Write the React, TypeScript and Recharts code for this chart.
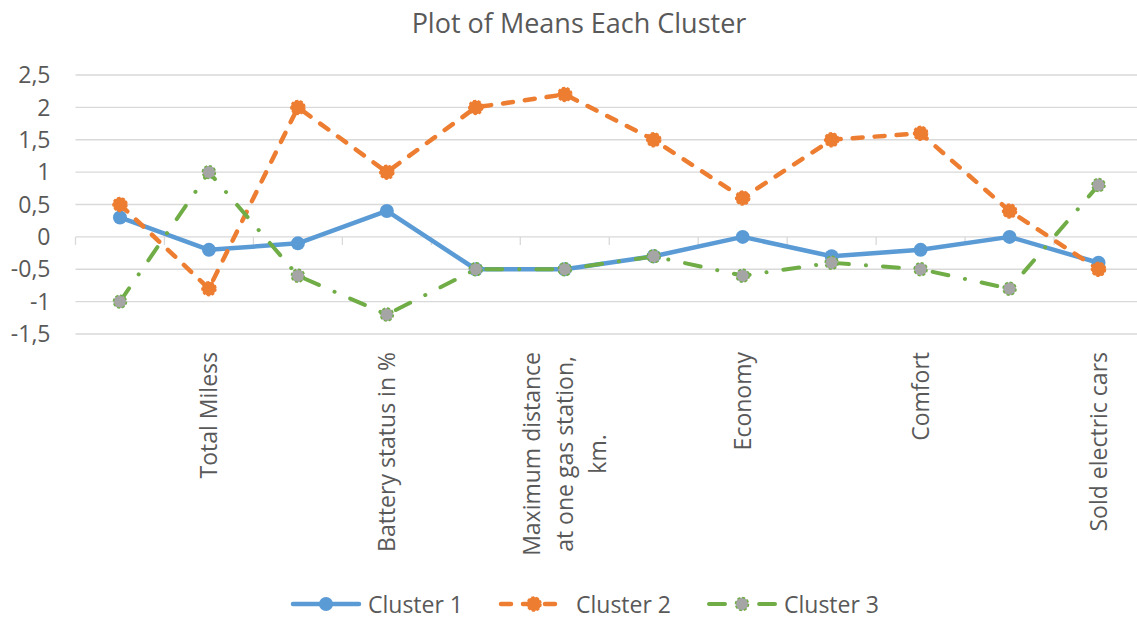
import React from 'react'
import {
  LineChart,
  Line,
  XAxis,
  YAxis,
  CartesianGrid,
  Legend,
  ReferenceLine,
} from 'recharts'

// every other category label is hidden in the source chart, so those names are unknown
const categories = [
  '',
  'Total Miless',
  '',
  'Battery status in %',
  '',
  'Maximum distance at one gas station, km.',
  '',
  'Economy',
  '',
  'Comfort',
  '',
  'Sold electric cars',
]
const cluster1 = [0.3, -0.2, -0.1, 0.4, -0.5, -0.5, -0.3, 0, -0.3, -0.2, 0, -0.4]
const cluster2 = [0.5, -0.8, 2, 1, 2, 2.2, 1.5, 0.6, 1.5, 1.6, 0.4, -0.5]
const cluster3 = [-1, 1, -0.6, -1.2, -0.5, -0.5, -0.3, -0.6, -0.4, -0.5, -0.8, 0.8]
const yTicks = [-1.5, -1, -0.5, 0, 0.5, 1, 1.5, 2, 2.5]
const seriesNames = ['Cluster 1', 'Cluster 2', 'Cluster 3']

const data = categories.map((name, i) => ({
  idx: i,
  name,
  c1: cluster1[i],
  c2: cluster2[i],
  c3: cluster3[i],
}))

const FONT = '"Open Sans", "Noto Sans", sans-serif'
const TEXT = '#595959'
const GRID = '#D9D9D9'
const BLUE = '#5B9BD5'
const ORANGE = '#ED7D31'
const GREEN = '#70AD47'
const GRAY = '#A5A5A5'

const DASH2 = '10 12'
const DASH3 = '16 17 0.1 17'

const LABEL_SIZE = 23
const LABEL_LINE = 33
const LABEL_MAX = 210

let ctx: CanvasRenderingContext2D | null = null
const textWidth = (s: string) => {
  if (!ctx) ctx = document.createElement('canvas').getContext('2d')
  if (!ctx) return s.length * LABEL_SIZE * 0.5
  ctx.font = `${LABEL_SIZE}px "Open Sans"`
  return ctx.measureText(s).width
}

const wrapLabel = (label: string) => {
  const lines: string[] = []
  let cur = ''
  label.split(' ').forEach((w) => {
    const next = cur ? `${cur} ${w}` : w
    if (cur && textWidth(next) > LABEL_MAX) {
      lines.push(cur)
      cur = w
    } else {
      cur = next
    }
  })
  if (cur) lines.push(cur)
  return lines
}

const marker = (kind: number, cx: number, cy: number, key?: any) => {
  if (kind === 0) return <circle key={key} cx={cx} cy={cy} r={7} fill={BLUE} />
  if (kind === 1)
    return (
      <circle
        key={key}
        cx={cx}
        cy={cy}
        r={7}
        fill={ORANGE}
        stroke={ORANGE}
        strokeWidth={1.5}
        strokeDasharray='3 2'
      />
    )
  return (
    <circle
      key={key}
      cx={cx}
      cy={cy}
      r={6.5}
      fill={GRAY}
      stroke={GREEN}
      strokeWidth={1.5}
      strokeDasharray='3 2'
    />
  )
}

const makeDot = (kind: number) => (props: any) => {
  const { cx, cy, index } = props
  if (cx == null || cy == null) return <g key={index} />
  return marker(kind, cx, cy, index)
}

// rotated label: block hangs from the axis, lines centred inside the block
const CategoryTick = (props: any) => {
  const { x, y, payload } = props
  const label = categories[payload.value]
  if (!label) return <g />
  const lines = wrapLabel(label)
  const blockW = Math.max(...lines.map(textWidth))
  const mid = x - blockW / 2
  const first = -((lines.length - 1) / 2) * LABEL_LINE + 8
  return (
    <text
      x={mid}
      y={y}
      transform={`rotate(-90, ${x}, ${y})`}
      textAnchor='middle'
      fontSize={LABEL_SIZE}
      fontFamily={FONT}
      fill={TEXT}
    >
      {lines.map((l, i) => (
        <tspan key={i} x={mid} dy={i === 0 ? first : LABEL_LINE}>
          {l}
        </tspan>
      ))}
    </text>
  )
}

const legendStyles = [
  { color: BLUE, dash: undefined, width: 4.5 },
  { color: ORANGE, dash: DASH2, width: 4.5 },
  { color: GREEN, dash: DASH3, width: 4 },
]

const renderLegend = () => (
  <div
    style={{
      display: 'flex',
      justifyContent: 'center',
      alignItems: 'center',
      paddingLeft: 26,
      height: 44,
      fontFamily: FONT,
      fontSize: 23,
      color: TEXT,
    }}
  >
    {seriesNames.map((name, i) => (
      <div
        key={name}
        style={{ display: 'flex', alignItems: 'center', marginLeft: i ? 35 : 0 }}
      >
        <svg width={72} height={20}>
          <line
            x1={3}
            y1={10}
            x2={69}
            y2={10}
            stroke={legendStyles[i].color}
            strokeWidth={legendStyles[i].width}
            strokeDasharray={legendStyles[i].dash}
            strokeLinecap='round'
          />
          {marker(i, 36, 10)}
        </svg>
        <span style={{ marginLeft: 6 }}>{name}</span>
      </div>
    ))}
  </div>
)

export default function App() {
  return (
    <div
      style={{
        position: 'absolute',
        left: 0,
        top: 0,
        width: 1137,
        height: 626,
        overflow: 'hidden',
        background: '#fff',
      }}
    >
      <div
        style={{
          position: 'absolute',
          top: 4,
          left: 0,
          width: 1137,
          paddingLeft: 21,
          boxSizing: 'border-box',
          textAlign: 'center',
          fontFamily: FONT,
          fontSize: 27,
          color: TEXT,
        }}
      >
        Plot of Means Each Cluster
      </div>
      <LineChart
        width={1145}
        height={626}
        data={data}
        margin={{ top: 75, right: 2, left: 0, bottom: 0 }}
      >
        <CartesianGrid
          horizontal
          vertical={false}
          stroke={GRID}
          strokeWidth={1.3}
        />
        <XAxis
          dataKey='idx'
          type='category'
          scale='band'
          height={248}
          axisLine={false}
          tickLine={false}
          tickSize={0}
          tickMargin={18}
          interval={0}
          tick={<CategoryTick />}
        />
        <YAxis
          type='number'
          domain={[-1.5, 2.5]}
          ticks={yTicks}
          interval={0}
          width={75.5}
          axisLine={false}
          tickLine={false}
          tickSize={0}
          tickMargin={25}
          tickFormatter={(v: number) => String(v).replace('.', ',')}
          tick={{ fill: TEXT, fontSize: 23, fontFamily: FONT }}
        />
        {data.map((d) => (
          <ReferenceLine
            key={`tick-${d.idx}`}
            segment={[
              { x: d.idx, y: 0 },
              { x: d.idx, y: -0.125 },
            ]}
            position='start'
            stroke={GRID}
            strokeWidth={1.3}
          />
        ))}
        <Legend verticalAlign='bottom' height={44} content={renderLegend} />
        <Line
          type='linear'
          dataKey='c1'
          name={seriesNames[0]}
          stroke={BLUE}
          strokeWidth={4.5}
          strokeLinejoin='round'
          dot={makeDot(0)}
          activeDot={false}
          isAnimationActive={false}
        />
        <Line
          type='linear'
          dataKey='c2'
          name={seriesNames[1]}
          stroke={ORANGE}
          strokeWidth={4.5}
          strokeDasharray={DASH2}
          strokeLinecap='round'
          strokeLinejoin='round'
          dot={makeDot(1)}
          activeDot={false}
          isAnimationActive={false}
        />
        <Line
          type='linear'
          dataKey='c3'
          name={seriesNames[2]}
          stroke={GREEN}
          strokeWidth={4}
          strokeDasharray={DASH3}
          strokeLinecap='round'
          strokeLinejoin='round'
          dot={makeDot(2)}
          activeDot={false}
          isAnimationActive={false}
        />
      </LineChart>
    </div>
  )
}
